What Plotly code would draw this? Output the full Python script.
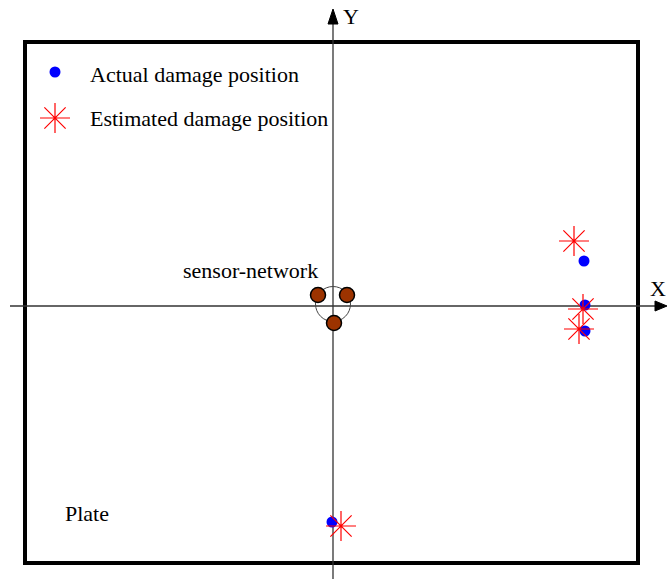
import plotly.graph_objects as go

# Data (pixel-referenced coordinates with origin at the axes crossing, y up)
actual_x = [251, 252, 252, -1]
actual_y = [45, 1, -25, -216]
est_x = [241, 250, 246, 8]
est_y = [65, -3, -23, -220]
sensor_x = [-15, 14, 1]
sensor_y = [11, 11, -17]

FONT = "Liberation Serif"
fig = go.Figure()

# plate rectangle
fig.add_shape(type="rect", x0=-308, x1=305, y0=-257, y1=264,
              line=dict(color="black", width=4), fillcolor="rgba(0,0,0,0)", layer="below")
# axes lines
fig.add_shape(type="line", x0=-323, x1=326, y0=0, y1=0, line=dict(color="#333333", width=1.3), layer="below")
fig.add_shape(type="line", x0=0, x1=0, y0=-275, y1=285, line=dict(color="#333333", width=1.3), layer="below")
# arrowheads
fig.add_shape(type="path", path="M 322 5 L 334 0 L 322 -5 Z", fillcolor="black", line=dict(color="black", width=1))
fig.add_shape(type="path", path="M -5 282 L 0 297 L 5 282 Z", fillcolor="black", line=dict(color="black", width=1))
# sensor network ring
fig.add_shape(type="circle", x0=-17.5, x1=17.5, y0=-15.5, y1=19.5, line=dict(color="#444444", width=1), layer="below")

fig.add_trace(go.Scatter(x=sensor_x, y=sensor_y, mode="markers",
                         marker=dict(size=15, color="#9c3300", line=dict(color="black", width=1.5)),
                         showlegend=False, hoverinfo="skip"))
fig.add_trace(go.Scatter(x=actual_x, y=actual_y, mode="markers",
                         marker=dict(size=11, color="blue"), showlegend=False))
fig.add_trace(go.Scatter(x=est_x, y=est_y, mode="markers",
                         marker=dict(size=25, symbol="asterisk-open", line=dict(color="red", width=1.2), color="red"),
                         showlegend=False))

# legend glyphs
fig.add_trace(go.Scatter(x=[-278], y=[234], mode="markers", marker=dict(size=11, color="blue"),
                         showlegend=False, hoverinfo="skip"))
fig.add_trace(go.Scatter(x=[-278], y=[188], mode="markers",
                         marker=dict(size=25, symbol="asterisk-open", line=dict(color="red", width=1.2), color="red"),
                         showlegend=False, hoverinfo="skip"))

ann = [
    dict(x=-244, y=232, text="Actual damage position", xanchor="left"),
    dict(x=-244, y=188, text="Estimated damage position", xanchor="left"),
    dict(x=-14, y=36, text="sensor-network", xanchor="right"),
    dict(x=-269, y=-207, text="Plate", xanchor="left"),
    dict(x=9, y=290, text="Y", xanchor="left"),
    dict(x=334, y=18, text="X", xanchor="right"),
]
for a in ann:
    fig.add_annotation(x=a["x"], y=a["y"], text=a["text"], xanchor=a["xanchor"], yanchor="middle",
                       showarrow=False, borderpad=0, font=dict(family=FONT, size=22, color="black"))

fig.update_layout(
    width=667, height=579, margin=dict(l=0, r=0, t=0, b=0),
    plot_bgcolor="white", paper_bgcolor="white",
    xaxis=dict(range=[-333, 334], visible=False, fixedrange=True),
    yaxis=dict(range=[-273, 306], visible=False, fixedrange=True),
)
fig.write_html("out.html")
